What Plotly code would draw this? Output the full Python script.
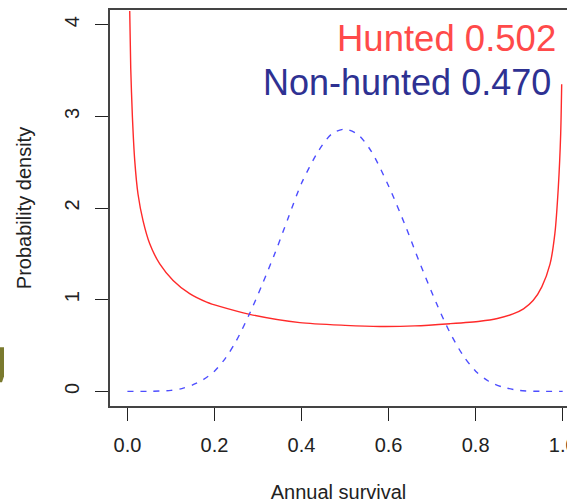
import plotly.graph_objects as go

# Annual survival grid points and probability densities
hunted_x = [0.0053, 0.0076, 0.0115, 0.0168, 0.0244, 0.036, 0.0513, 0.0743, 0.105,
            0.143, 0.182, 0.212, 0.281, 0.396, 0.50, 0.58, 0.66, 0.741, 0.81,
            0.85, 0.886, 0.91, 0.932, 0.952, 0.971, 0.982, 0.990, 0.9954, 0.9977]
hunted_y = [4.15, 3.53, 2.99, 2.52, 2.15, 1.86, 1.61, 1.39, 1.21,
            1.065, 0.973, 0.926, 0.84, 0.749, 0.72, 0.708, 0.714, 0.738, 0.765,
            0.795, 0.845, 0.90, 0.99, 1.14, 1.39, 1.72, 2.23, 2.81, 3.35]

nonhunted_x = [0.0, 0.05, 0.10, 0.125, 0.15, 0.175, 0.20, 0.225, 0.25, 0.28, 0.31,
               0.34, 0.37, 0.40, 0.44, 0.47, 0.50, 0.53, 0.56, 0.60, 0.64, 0.67,
               0.71, 0.74, 0.77, 0.80, 0.83, 0.86, 0.90, 0.95, 1.0]
nonhunted_y = [0.0, 0.0, 0.01, 0.03, 0.07, 0.13, 0.22, 0.36, 0.55, 0.84, 1.17,
               1.52, 1.90, 2.27, 2.63, 2.81, 2.86, 2.80, 2.62, 2.24, 1.79, 1.42,
               0.96, 0.65, 0.40, 0.22, 0.11, 0.05, 0.01, 0.0, 0.0]

x_ticks = [0.0, 0.2, 0.4, 0.6, 0.8, 1.0]
x_tick_labels = ["0.0", "0.2", "0.4", "0.6", "0.8", "1.0"]
y_ticks = [0, 1, 2, 3, 4]
y_tick_labels = ["0", "1", "2", "3", "4"]

group_labels = ["Hunted 0.502", "Non-hunted 0.470"]

FONT = "Liberation Sans, Arial, sans-serif"

fig = go.Figure()
fig.add_trace(go.Scatter(
    x=hunted_x, y=hunted_y, mode="lines",
    line=dict(color="#FF2A2A", width=1.4, shape="spline", smoothing=0.7),
    name=group_labels[0], hoverinfo="skip",
))
fig.add_trace(go.Scatter(
    x=nonhunted_x, y=nonhunted_y, mode="lines",
    line=dict(color="#4D4DFF", width=1.4, dash="6px,7px", shape="spline", smoothing=0.8),
    name=group_labels[1], hoverinfo="skip",
))

axis_common = dict(
    showgrid=False, zeroline=False, showline=True, automargin=False,
    linecolor="#444444", linewidth=1.5,
    ticks="outside", ticklen=13, tickwidth=1.3, tickcolor="#222222",
    tickfont=dict(family=FONT, size=20, color="#222222"),
    title_font=dict(family=FONT, size=20, color="#222222"),
)

fig.update_xaxes(
    range=[-0.04, 1.0099], tickvals=x_ticks, ticktext=x_tick_labels,
    mirror=True, ticklabeloverflow="allow", ticklabelstandoff=7,
    title_text="Annual survival", title_standoff=38,
    **axis_common,
)
fig.update_yaxes(
    range=[-0.16, 4.16], tickvals=y_ticks, ticktext=y_tick_labels,
    tickangle=-90, ticklabelstandoff=8,
    title_text="Probability density", title_standoff=24,
    **axis_common,
)

fig.add_annotation(
    text=group_labels[0], xref="paper", yref="paper",
    x=(558 - 110) / 457, y=(405.7 - 38) / 395.7,
    xanchor="right", yanchor="middle", showarrow=False,
    font=dict(family=FONT, size=36.5, color="#FF4A4A"),
)
fig.add_annotation(
    text=group_labels[1], xref="paper", yref="paper",
    x=(553 - 110) / 457, y=(405.7 - 82) / 395.7,
    xanchor="right", yanchor="middle", showarrow=False,
    font=dict(family=FONT, size=36, color="#2E3192"),
)

# olive sliver of a heading letter at the far left edge
px1, py0, py1 = 4, 347, 382
def pxx(p):
    return (p - 110) / 457
def pyy(p):
    return (405.7 - p) / 395.7
fig.add_shape(
    type="path", xref="paper", yref="paper",
    path=(f"M {pxx(-2)},{pyy(py0)} L {pxx(px1)},{pyy(py0)} "
          f"L {pxx(px1)},{pyy(py1 - 6)} L {pxx(2)},{pyy(py1)} L {pxx(-2)},{pyy(py1)} Z"),
    fillcolor="#7A7A2E", line=dict(width=0), layer="above",
)

fig.update_layout(
    width=567, height=503,
    margin=dict(l=110, r=0, t=10, b=97, pad=0),
    paper_bgcolor="white", plot_bgcolor="white",
    showlegend=False,
    font=dict(family=FONT),
)

fig.write_html("out.html")
